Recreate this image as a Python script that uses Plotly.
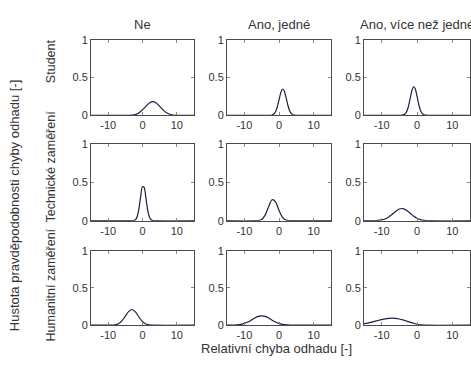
import plotly.graph_objects as go

W, H = 471, 365

col_titles = ["Ne", "Ano, jedné", "Ano, více než jedné"]
row_titles = ["Student", "Technické zaměření", "Humanitní zaměření"]
x_title = "Relativní chyba odhadu [-]"
y_title = "Hustota pravděpodobnosti chyby odhadu [-]"

x_tickvals = [-10, 0, 10]
x_ticktext = ["-10", "0", "10"]
y_tickvals = [0, 0.5, 1]
y_ticktext = ["0", "0.5", "1"]
x_range = [-15, 15]
y_range = [0, 1]

# Student
s_ne_x = [-15, -4, -3, -2, -1, 0, 1, 2, 3, 4, 5, 6, 7, 8, 9, 10, 15]
s_ne_y = [0, 0, 0.002, 0.01, 0.034, 0.071, 0.119, 0.163, 0.18, 0.163, 0.119, 0.071, 0.034, 0.014, 0.004, 0, 0]
s_one_x = [-15, -3, -2, -1.5, -1, -0.5, 0, 0.5, 1, 1.5, 2, 2.5, 3, 3.5, 4, 4.5, 5.5, 15]
s_one_y = [0, 0, 0.004, 0.016, 0.047, 0.11, 0.202, 0.297, 0.348, 0.325, 0.242, 0.144, 0.068, 0.026, 0.008, 0.002, 0, 0]
s_more_x = [-15, -5, -4, -3.5, -3, -2.5, -2, -1.5, -1, -0.5, 0, 0.5, 1, 1.5, 2, 2.5, 3.5, 15]
s_more_y = [0, 0, 0.003, 0.013, 0.042, 0.106, 0.207, 0.317, 0.378, 0.351, 0.253, 0.143, 0.062, 0.021, 0.006, 0.001, 0, 0]

# Technické zaměření
t_ne_x = [-15, -4, -3, -2.5, -2, -1.5, -1, -0.5, 0, 0.5, 1, 1.5, 2, 2.5, 3, 4, 15]
t_ne_y = [0, 0, 0, 0.003, 0.016, 0.062, 0.17, 0.328, 0.447, 0.432, 0.295, 0.143, 0.049, 0.012, 0.002, 0, 0]
t_one_x = [-15, -7, -6, -5, -4, -3, -2, -1, 0, 1, 2, 3, 4, 15]
t_one_y = [0, 0, 0.003, 0.017, 0.073, 0.182, 0.274, 0.247, 0.134, 0.044, 0.009, 0.001, 0, 0]
t_more_x = [-15, -13, -12, -11, -10, -9, -8, -7, -6, -5, -4, -3, -2, -1, 0, 1, 2, 3, 4, 15]
t_more_y = [0, 0, 0.001, 0.003, 0.01, 0.023, 0.049, 0.085, 0.124, 0.153, 0.159, 0.138, 0.101, 0.062, 0.032, 0.014, 0.005, 0.002, 0, 0]

# Humanitní zaměření
h_ne_x = [-15, -10, -9, -8, -7, -6, -5, -4, -3, -2, -1, 0, 1, 2, 3, 15]
h_ne_y = [0, 0, 0.001, 0.005, 0.02, 0.057, 0.12, 0.185, 0.21, 0.174, 0.106, 0.048, 0.016, 0.004, 0, 0]
h_one_x = [-15, -14, -13, -12, -11, -10, -9, -8, -7, -6, -5, -4, -3, -2, -1, 0, 1, 2, 3, 4, 15]
h_one_y = [0, 0.001, 0.002, 0.004, 0.011, 0.023, 0.042, 0.067, 0.095, 0.117, 0.125, 0.117, 0.095, 0.067, 0.042, 0.023, 0.011, 0.004, 0.002, 0, 0]
h_more_x = [-15, -14, -13, -12, -11, -10, -9, -8, -7, -6, -5, -4, -3, -2, -1, 0, 1, 2, 15]
h_more_y = [0.02, 0.028, 0.038, 0.05, 0.063, 0.075, 0.085, 0.092, 0.095, 0.092, 0.083, 0.07, 0.055, 0.04, 0.025, 0.012, 0.003, 0, 0]

series = [
    [(s_ne_x, s_ne_y), (s_one_x, s_one_y), (s_more_x, s_more_y)],
    [(t_ne_x, t_ne_y), (t_one_x, t_one_y), (t_more_x, t_more_y)],
    [(h_ne_x, h_ne_y), (h_one_x, h_one_y), (h_more_x, h_more_y)],
]

# layout in pixels
col_px = [(91, 194), (227, 331), (364, 470)]
row_px = [(35, 113), (143, 222), (253, 330)]

FONT = "Liberation Sans, Arial, sans-serif"
LINE = "#4a4a4a"
CURVE = "#1c1f40"

fig = go.Figure()
layout = dict(
    width=W, height=H,
    margin=dict(l=0, r=0, t=0, b=0),
    paper_bgcolor="white", plot_bgcolor="white",
    showlegend=False,
    font=dict(family=FONT, size=11, color="#333"),
)

annotations = []
for r in range(3):
    for c in range(3):
        i = r * 3 + c + 1
        xa = "xaxis" if i == 1 else f"xaxis{i}"
        ya = "yaxis" if i == 1 else f"yaxis{i}"
        xr = "x" if i == 1 else f"x{i}"
        yr = "y" if i == 1 else f"y{i}"
        x0, x1 = col_px[c]
        y0, y1 = row_px[r]
        common = dict(showline=True, linecolor=LINE, linewidth=1, mirror="ticks",
                      ticks="inside", ticklen=3, tickcolor="#888", showgrid=False,
                      zeroline=False, tickfont=dict(family=FONT, size=11, color="#333"))
        layout[xa] = dict(domain=[x0 / W, x1 / W], range=x_range, anchor=yr,
                          tickvals=x_tickvals, ticktext=x_ticktext, **common)
        layout[ya] = dict(domain=[1 - y1 / H, 1 - y0 / H], range=y_range, anchor=xr,
                          tickvals=y_tickvals, ticktext=y_ticktext, **common)
        xs, ys = series[r][c]
        fig.add_trace(go.Scatter(x=xs, y=ys, mode="lines", xaxis=xr, yaxis=yr,
                                 line=dict(color=CURVE, width=1.2, shape="spline", smoothing=0.8),
                                 cliponaxis=True, hoverinfo="skip"))

for c, t in enumerate(col_titles):
    xc = (col_px[c][0] + col_px[c][1]) / 2
    annotations.append(dict(text=t, x=xc / W, y=1 - 19 / H, xref="paper", yref="paper",
                            showarrow=False, xanchor="center", yanchor="middle",
                            font=dict(family=FONT, size=13, color="#333")))

row_label_y = [57, 166, 289]
for r, t in enumerate(row_titles):
    annotations.append(dict(text=t, x=51 / W, y=1 - row_label_y[r] / H, xref="paper", yref="paper",
                            showarrow=False, xanchor="center", yanchor="middle", textangle=-90,
                            font=dict(family=FONT, size=12.5, color="#333")))

annotations.append(dict(text=x_title, x=276 / W, y=1 - 354 / H, xref="paper", yref="paper",
                        showarrow=False, xanchor="center", yanchor="middle",
                        font=dict(family=FONT, size=13, color="#333")))
annotations.append(dict(text=y_title, x=14 / W, y=1 - 206 / H, xref="paper", yref="paper",
                        showarrow=False, xanchor="center", yanchor="middle", textangle=-90,
                        font=dict(family=FONT, size=13, color="#333")))

layout["annotations"] = annotations
fig.update_layout(**layout)
fig.write_html(
    "out.html",
    config={"displayModeBar": False},
    post_script="document.body.style.margin='0';document.body.style.overflow='hidden';"
                "document.documentElement.style.overflow='hidden';",
)
